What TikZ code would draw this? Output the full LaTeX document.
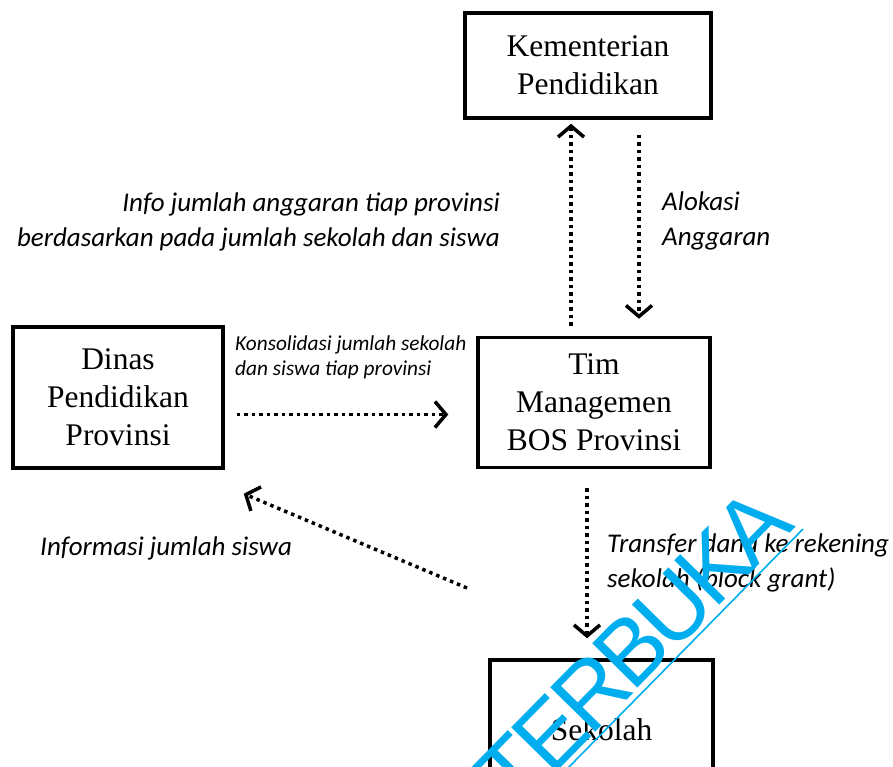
\documentclass[tikz,border=0pt]{standalone}
\usepackage{fontspec}
\setmainfont{Liberation Serif}
\newfontfamily\labelfont{Carlito}
\newfontfamily\markfont[LetterSpace=-6]{Liberation Sans}
\usetikzlibrary{arrows.meta}
\definecolor{wmcyan}{RGB}{0,174,239}

\begin{document}
\begin{tikzpicture}[x=1pt,y=-1pt,>={Straight Barb[length=11pt,width=26pt,line width=3.5pt]},
  unitbox/.style={draw,line width=3.5pt,align=center,inner sep=0pt,
    font=\fontsize{31.5}{38}\selectfont},
  flow/.style={->,line width=3.5pt,dash pattern=on 3.5pt off 4pt},
  note/.style={inner sep=0pt,font=\labelfont\itshape\fontsize{27}{34.5}\selectfont},
  smallnote/.style={inner sep=0pt,font=\labelfont\itshape\fontsize{21.3}{25}\selectfont}]
\useasboundingbox (0,0) rectangle (893,766);
% boxes
\node[unitbox,minimum width=246pt,minimum height=105pt] (kemen) at (588,65.5) {Kementerian\\Pendidikan};
\node[unitbox,minimum width=210pt,minimum height=141pt] (dinas) at (118,397.5) {Dinas\\Pendidikan\\Provinsi};
\node[unitbox,minimum width=232pt,minimum height=130pt] (tim) at (594,402.5) {Tim\\Managemen\\BOS Provinsi};
\node[unitbox,minimum width=223pt,minimum height=140pt] (sekolah) at (601.5,730) {Sekolah};
% arrows
\draw[flow,shorten <=10pt,shorten >=4pt] ([xshift=-23pt]tim.north) -- ([xshift=-23pt]tim.north |- kemen.south);
\draw[flow,shorten <=15pt,shorten >=17pt] ([xshift=51pt]kemen.south) -- ([xshift=51pt]kemen.south |- tim.north);
\draw[flow,shorten <=12pt,shorten >=28pt] ([yshift=-17pt]dinas.east) -- ([yshift=-17pt]dinas.east -| tim.west);
\coordinate (siswafrom) at (467,588);
\draw[flow] (siswafrom) -- ([shift={(19pt,-24pt)}]dinas.south east);
\draw[flow,shorten <=19pt,shorten >=20pt] ([xshift=-7pt]tim.south) -- ([xshift=-7pt]tim.south |- sekolah.north);
% labels
\node[note,align=right,anchor=east] (infolbl) at (500,222) {Info jumlah anggaran tiap provinsi\\berdasarkan pada jumlah sekolah dan siswa};
\node[note,align=left,anchor=west] (aloklbl) at (662,221) {Alokasi\\Anggaran};
\node[smallnote,align=left,anchor=west] (konslbl) at (235,357) {Konsolidasi jumlah sekolah\\dan siswa tiap provinsi};
\node[note,anchor=west] (siswalbl) at (40,548) {Informasi jumlah siswa};
\node[note,align=left,anchor=west] (translbl) at (607,563) {Transfer dana ke rekening\\sekolah (block grant)};
% watermark
\node[text=wmcyan,inner sep=0pt,rotate=45.5,anchor=base east,font=\markfont\fontsize{92}{92}\selectfont] (mark) at (797,527) {TERBUKA};
\draw[wmcyan,line width=1.6pt] (566,770) -- (803,529);
\end{tikzpicture}
\end{document}
